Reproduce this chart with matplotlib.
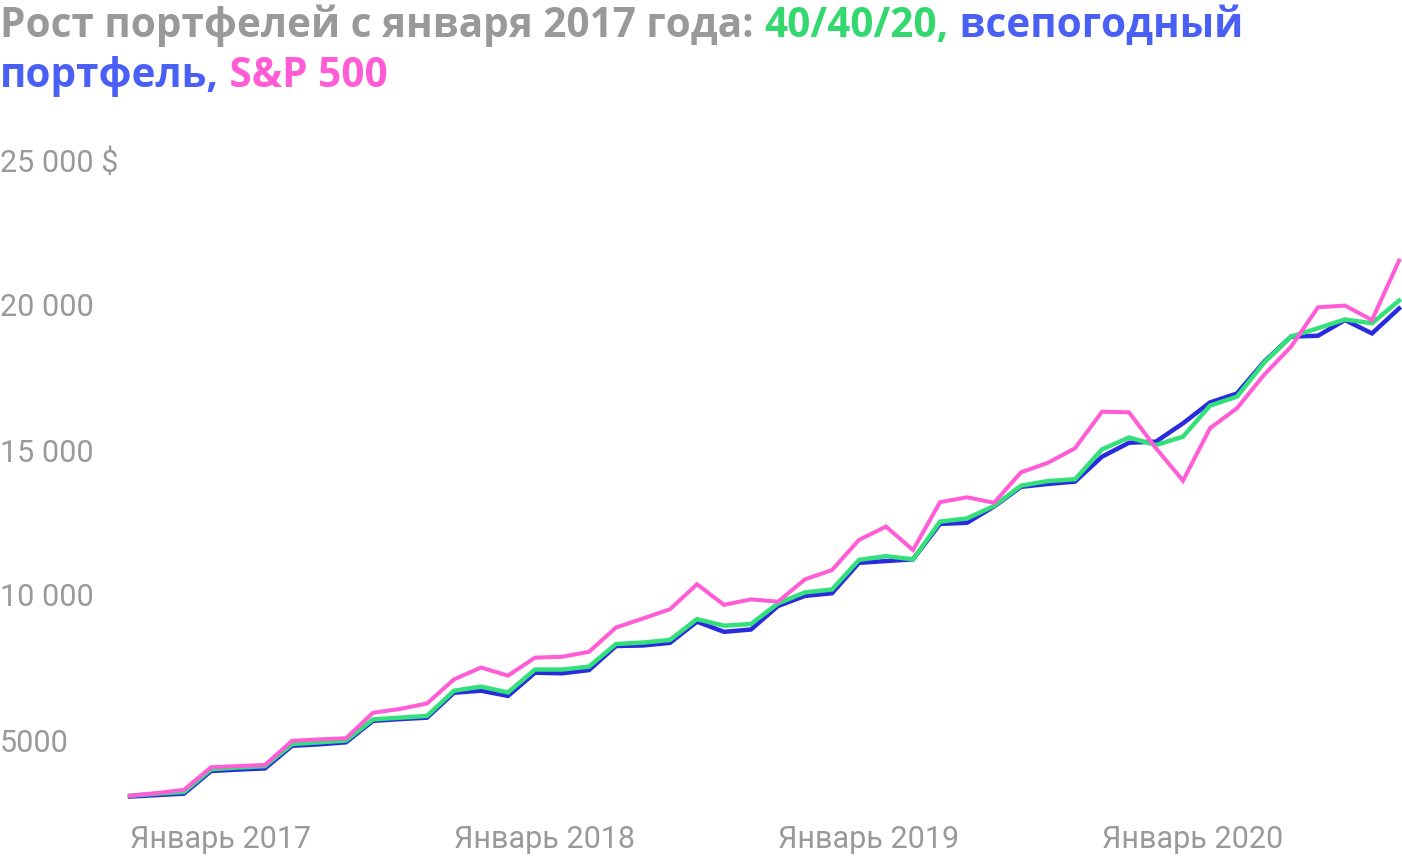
import matplotlib.pyplot as plt

plt.rcParams.update({'font.family': ['Roboto', 'DejaVu Sans']})

# monthly values, Jan 2017 .. Dec 2020, thousands of $
months = list(range(48))
all_weather = [3.05, 3.10, 3.15, 3.93, 3.98, 4.02, 4.80, 4.85, 4.92, 5.66, 5.72, 5.77,
               6.63, 6.70, 6.52, 7.32, 7.30, 7.41, 8.24, 8.26, 8.35, 9.08, 8.73, 8.81,
               9.62, 9.97, 10.06, 11.11, 11.17, 11.23, 12.45, 12.49, 13.05, 13.73, 13.83, 13.91,
               14.77, 15.25, 15.29, 15.92, 16.64, 16.95, 18.04, 18.91, 18.94, 19.48, 19.02, 19.88]
p404020 = [3.08, 3.15, 3.21, 3.99, 4.05, 4.10, 4.86, 4.92, 4.98, 5.71, 5.77, 5.83,
           6.70, 6.84, 6.64, 7.43, 7.43, 7.53, 8.31, 8.36, 8.45, 9.17, 8.94, 9.00,
           9.71, 10.09, 10.19, 11.21, 11.34, 11.23, 12.53, 12.64, 13.07, 13.77, 13.93, 13.99,
           15.02, 15.43, 15.17, 15.46, 16.53, 16.84, 18.01, 18.91, 19.20, 19.50, 19.37, 20.15]
sp500 = [3.08, 3.17, 3.28, 4.06, 4.10, 4.14, 4.97, 5.02, 5.06, 5.94, 6.07, 6.26,
         7.09, 7.50, 7.22, 7.84, 7.87, 8.04, 8.88, 9.19, 9.51, 10.37, 9.66, 9.85,
         9.77, 10.54, 10.86, 11.90, 12.36, 11.55, 13.20, 13.37, 13.18, 14.23, 14.56, 15.06,
         16.32, 16.30, 15.06, 13.94, 15.75, 16.44, 17.59, 18.56, 19.92, 19.98, 19.48, 21.53]

xticks = [0, 12, 24, 36]
xlabels = ['Январь 2017', 'Январь 2018', 'Январь 2019', 'Январь 2020']
yticks = [5000, 10000, 15000, 20000, 25000]
ylabels = ['5000', '10 000', '15 000', '20 000', '25 000 $']

gray = '#999999'
c_blue = '#2a2ae0'
c_green = '#33e07a'
c_pink = '#ff5cd6'

W, H = 1402, 860
fig = plt.figure(figsize=(W / 100, H / 100), dpi=100)
ax = fig.add_axes([130 / W, (H - 810) / H, (1399 - 130) / W, 660 / H])

ax.plot(months, [v * 1000 for v in all_weather], color=c_blue, lw=3.2, clip_on=False, solid_joinstyle='miter')
ax.plot(months, [v * 1000 for v in p404020], color=c_green, lw=3.2, clip_on=False, solid_joinstyle='miter')
ax.plot(months, [v * 1000 for v in sp500], color=c_pink, lw=2.9, clip_on=False, solid_joinstyle='miter')

ax.set_xlim(0, 47)
ax.set_ylim((885 - 810) / 29 * 1000, (885 - 150) / 29 * 1000)
for s in ax.spines.values():
    s.set_visible(False)

ax.set_xticks(xticks, xlabels)
ax.set_yticks(yticks, ylabels)
ax.tick_params(length=0, labelsize=22, labelcolor=gray)
ax.tick_params(axis='x', pad=11)
ax.tick_params(axis='y', pad=130 * 0.72)
for t in ax.get_xticklabels():
    t.set_ha('left')
for t in ax.get_yticklabels():
    t.set_ha('left')

# multi-coloured title
fig.canvas.draw()
r = fig.canvas.get_renderer()
lines = [
    [('Рост портфелей с января 2017 года: ', gray), ('40/40/20,', '#33d96e'), (' всепогодный', '#4a60f5')],
    [('портфель,', '#4a60f5'), (' S&P 500', '#ff5cd6')],
]
ys = [1 - 37 / H, 1 - 87 / H]
for parts, y in zip(lines, ys):
    x = 0
    for s, c in parts:
        t = fig.text(x, y, s, color=c, fontsize=29.2, fontweight='bold', ha='left', va='baseline',
                     family=['Open Sans', 'DejaVu Sans'])
        bb = t.get_window_extent(r)
        x = bb.x1 / W

fig.savefig('out.png', dpi=100)
